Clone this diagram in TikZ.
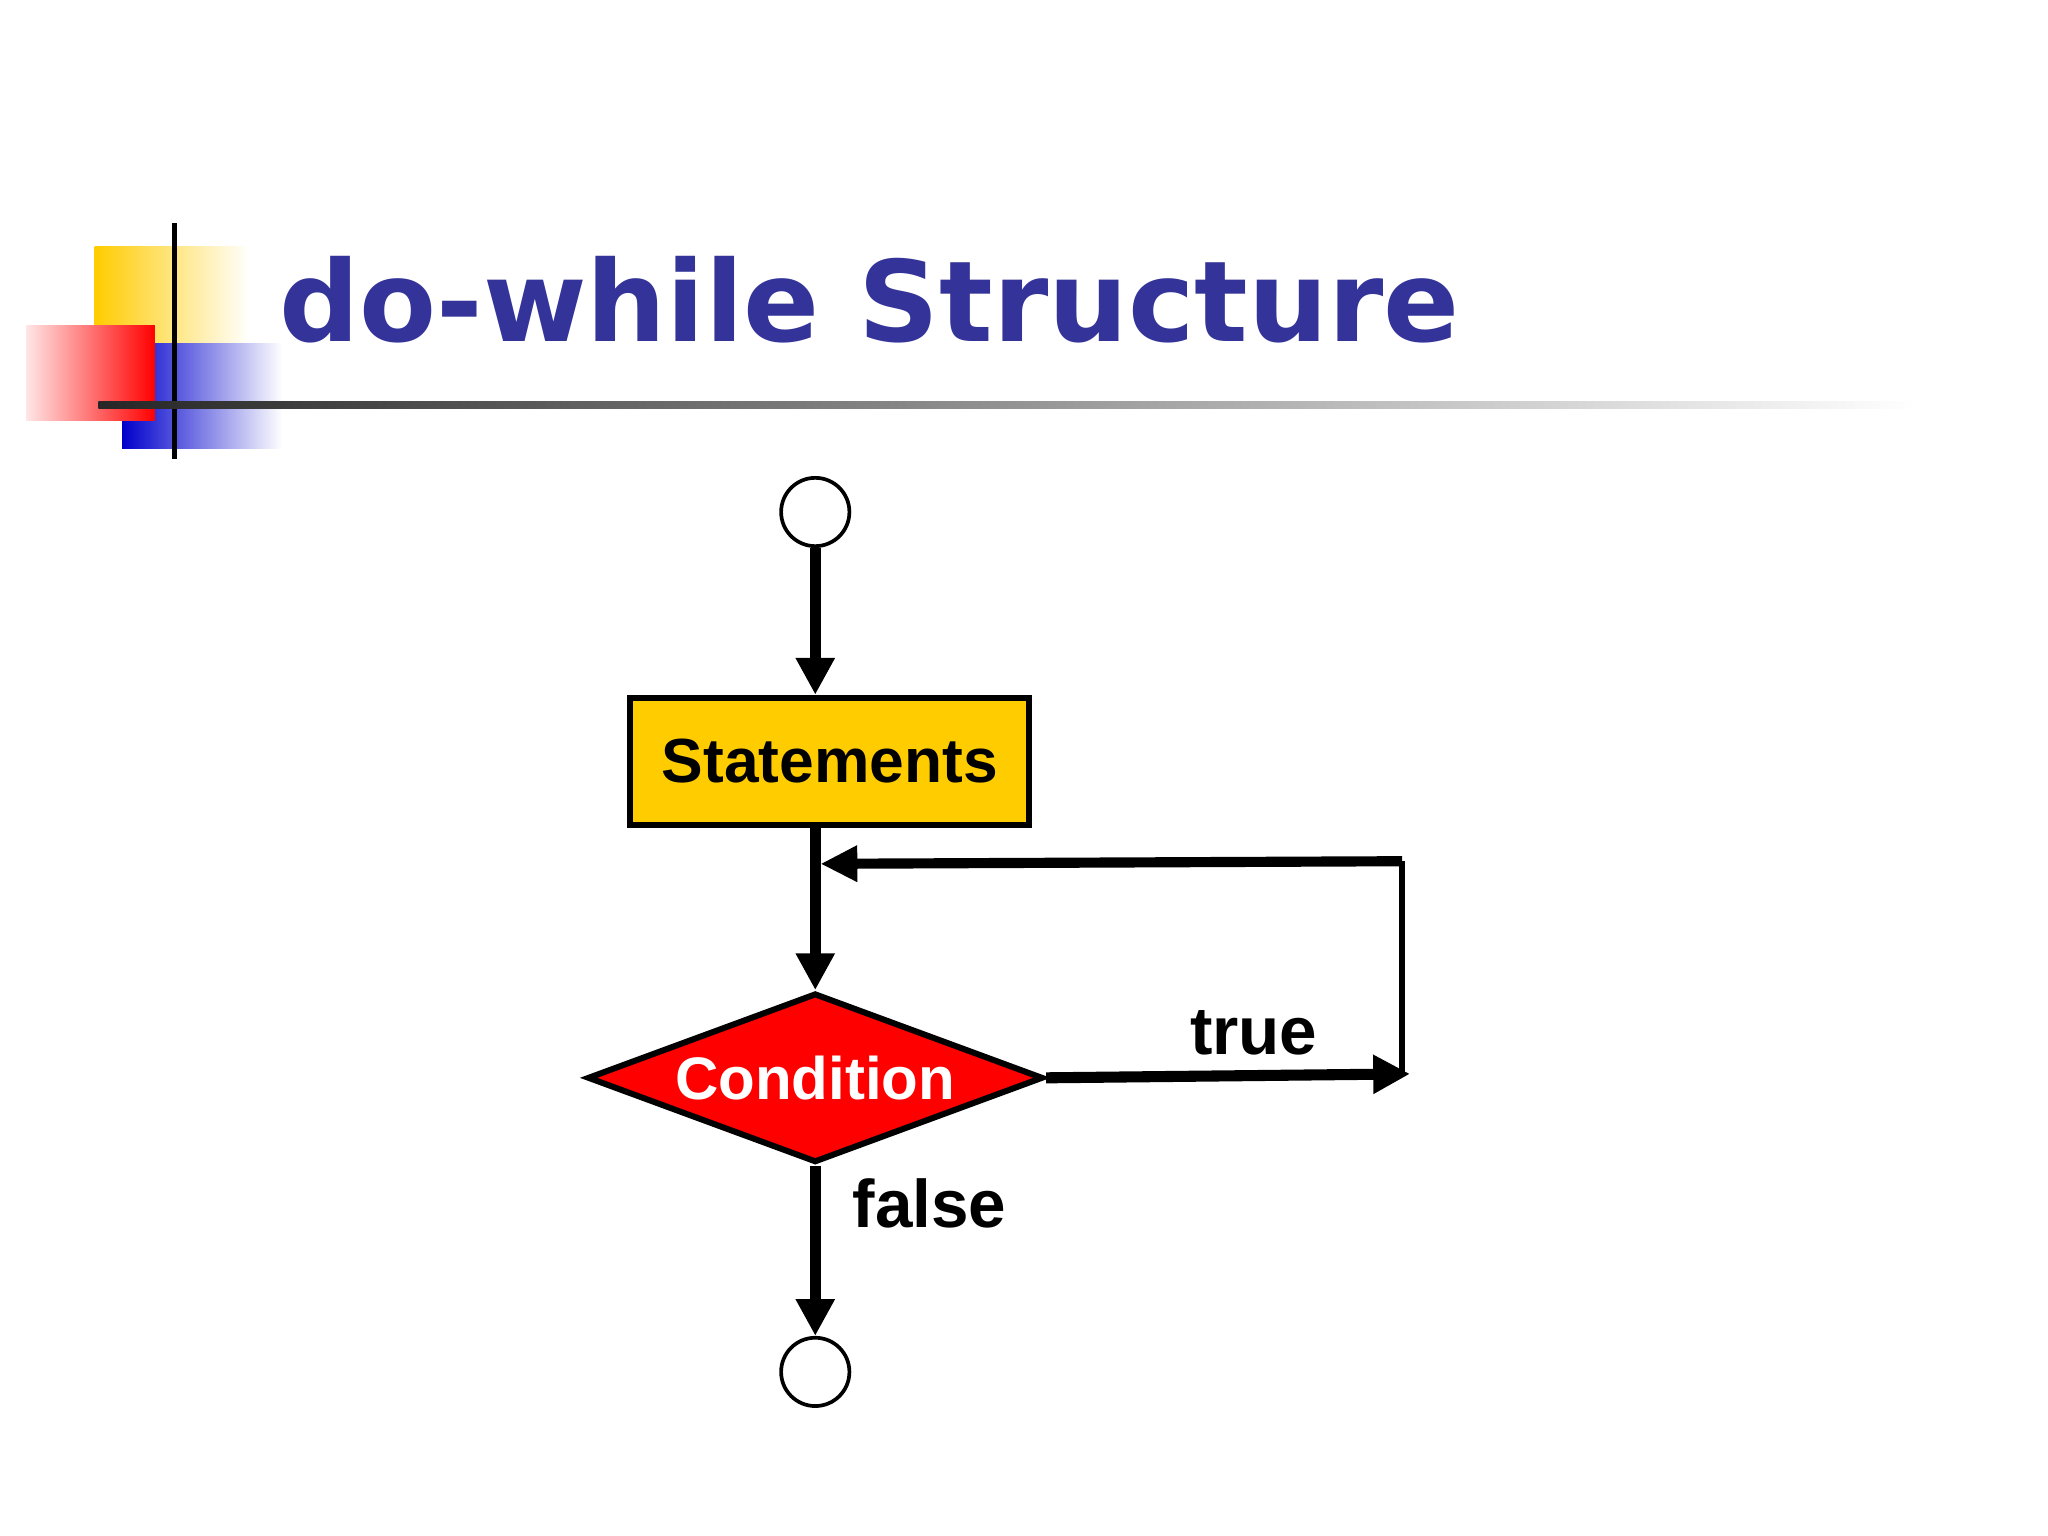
\documentclass[tikz,border=0pt]{standalone}
\usepackage{fontspec}
\setmainfont{Liberation Sans}
\newfontfamily\titlefont{DejaVu Sans}
\usetikzlibrary{arrows.meta,shapes.geometric}
\definecolor{titleblue}{RGB}{51,51,153}
\definecolor{boxyellow}{RGB}{255,204,0}
\begin{document}
\begin{tikzpicture}[x=0.01cm,y=-0.01cm,
  flow/.style={line width=2.4pt,-{Triangle[length=0.28cm,width=0.28cm]}},
  loop/.style={line width=1.4pt},
  term/.style={circle,draw,line width=0.8pt,fill=white,minimum size=0.52cm,inner sep=0pt},
  lbl/.style={font=\bfseries\fontsize{13.5}{16}\selectfont}]
\useasboundingbox (0,0) rectangle (1560,1170);
\fill[white] (0,0) rectangle (1560,1170);
% logo
\shade[left color=boxyellow,right color=white] (72,188) rectangle (190,262);
\shade[left color=blue!80!black,right color=white] (93,262) rectangle (215,342);
\shade[left color=red!10,right color=red] (20,248) rectangle (118,320);
\draw[line width=1.2pt] (133,170) -- (133,350);
\shade[left color=black!85,right color=white] (75,306) rectangle (1460,311);
\node[anchor=base west,text=titleblue,font=\titlefont\bfseries\fontsize{24.3}{29}\selectfont,inner sep=0pt] (title) at (212,260) {do-while Structure};
% flow
\node[term] (start) at (621,390) {};
\node[draw,line width=1.3pt,fill=boxyellow,minimum width=3.04cm,minimum height=0.97cm,inner sep=0pt,lbl] (stmt) at (632,580) {Statements};
\node[diamond,draw,line width=1.3pt,fill=red,minimum width=3.47cm,minimum height=1.29cm,inner sep=0pt] (cond) at (621,821) {};
\node[text=white,lbl,font=\bfseries\fontsize{13}{16}\selectfont] (condt) at (cond.center) {Condition};
\node[term] (end) at (621,1045) {};
\coordinate (tr) at (1068,818);
\coordinate (tt) at (1068,656);
\coordinate (ret) at (625,658);
\draw[flow] (start) -- (stmt.north -| start);
\draw[flow] (stmt.south -| cond.north) -- (cond.north);
\draw[flow] (cond.east) -- (1074,818);
\draw[loop] (tr) -- (tt);
\draw[line width=2.2pt,-{Triangle[length=0.28cm,width=0.26cm]}] (tt) -- (ret);
\draw[flow] (cond.south) -- (end.north);
\node[font=\bfseries\fontsize{14.6}{18}\selectfont] (t) at (955,787) {true};
\node[font=\bfseries\fontsize{14.6}{18}\selectfont] (f) at (708,917) {false};
\end{tikzpicture}
\end{document}
